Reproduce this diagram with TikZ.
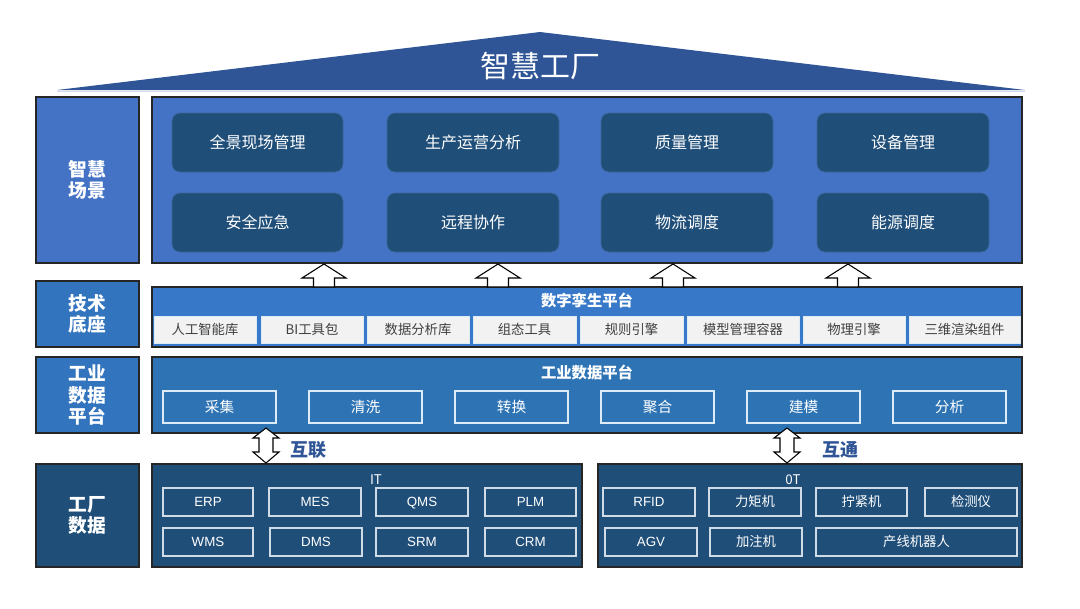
\documentclass[tikz,border=0pt]{standalone}
\usepackage{fontspec}
\setmainfont{Noto Sans CJK SC}
\newfontfamily\arialf{Liberation Sans}
\usetikzlibrary{calc}
\definecolor{roofc}{HTML}{2F5597}
\definecolor{scenec}{HTML}{4472C4}
\definecolor{techc}{HTML}{3779C8}
\definecolor{labc}{HTML}{3274BE}
\definecolor{datac}{HTML}{2E74B5}
\definecolor{darkc}{HTML}{1F4E79}
\definecolor{edgec}{HTML}{262626}
\definecolor{grayc}{HTML}{F2F2F2}
\definecolor{graytext}{HTML}{404040}
\definecolor{lightedge}{HTML}{DDEBF7}
\definecolor{innerdark}{HTML}{1F4E79}
\definecolor{inneredge}{HTML}{3A6A9A}
\definecolor{linkc}{HTML}{2F5597}
\definecolor{roofline}{HTML}{D0DCEE}
\newcommand\mkbox[7]{%
  \node[#1, minimum width={(#5-#3)*0.75pt}, minimum height={(#6-#4)*0.75pt}]
    (#2) at ({(#3+#5)/2},{(#4+#6)/2}) {#7};}
\newcommand\blockup[1]{%
  \draw[blockarrow] (#1,0 |- S.south) ++(0,1) -- ++(22,14) -- ++(-11.5,0) -- ++(0,9)
    -- ++(-21,0) -- ++(0,-9) -- ++(-11.5,0) -- cycle;}
\newcommand\blockboth[1]{%
  \draw[blockarrow] (#1,0 |- D.south) ++(0,-5) -- ++(13,10) -- ++(-6,0) -- ++(0,14)
    -- ++(6,0) -- ++(-13,11) -- ++(-13,-11) -- ++(6,0) -- ++(0,-14) -- ++(-6,0) -- cycle;}
\tikzset{
  every node/.style={inner sep=0pt, outer sep=0pt},
  lab/.style={draw=edgec, line width=1pt, text=white, align=center,
    font=\bfseries\fontsize{14}{16}\selectfont},
  mainbox/.style={draw=edgec, line width=1pt},
  sceneitem/.style={fill=innerdark, draw=inneredge, line width=0.5pt, rounded corners=6pt,
    text=white, font=\fontsize{12}{14}\selectfont},
  grayitem/.style={fill=grayc, draw=lightedge, line width=0.6pt, text=graytext,
    font=\fontsize{10}{12}\selectfont, text height=8pt, text depth=1pt},
  dataitem/.style={draw=lightedge, line width=1.1pt, text=white,
    font=\fontsize{11}{13}\selectfont},
  ititem/.style={draw=lightedge!85!gray, line width=1.1pt, text=white,
    font=\arialf\fontsize{10}{12}\selectfont, text height=7.5pt, text depth=1pt},
  otitem/.style={draw=lightedge!85!gray, line width=1.1pt, text=white,
    font=\fontsize{10}{12}\selectfont, text height=8pt, text depth=1pt},
  titletext/.style={text=white, font=\bfseries\fontsize{11.5}{13}\selectfont},
  linklabel/.style={text=linkc, font=\bfseries\fontsize{13.5}{15}\selectfont},
  blockarrow/.style={draw=black, fill=white, line width=0.8pt, line join=miter},
}
\begin{document}
\begin{tikzpicture}[x=0.75pt,y=-0.75pt]
\useasboundingbox (0,0) rectangle (1080,608);
% roof
\fill[roofc] (57,90) -- (540,32) -- (1025,90) -- cycle;
\draw[roofline, line width=1.2pt] (57,91.5) -- (1025,91.5);
\node[text=white, font=\fontsize{22.5}{24}\selectfont] (roof) at (540,66) {智慧工厂};
% left labels
\mkbox{lab, fill=scenec}{L1}{36}{97}{139}{263}{智慧\\场景}
\mkbox{lab, fill=labc}{L2}{36}{281}{139}{347}{技术\\底座}
\mkbox{lab, fill=labc}{L3}{36}{357}{139}{433}{工业\\数据\\平台}
\mkbox{lab, fill=darkc}{L4}{36}{464}{139}{567}{工厂\\数据}
% scene box
\mkbox{mainbox, fill=scenec}{S}{152}{97}{1022}{263}{}
\mkbox{sceneitem}{s1}{172}{113}{343}{172}{全景现场管理}
\mkbox{sceneitem}{s2}{387}{113}{559}{172}{生产运营分析}
\mkbox{sceneitem}{s3}{601}{113}{773}{172}{质量管理}
\mkbox{sceneitem}{s4}{817}{113}{989}{172}{设备管理}
\mkbox{sceneitem}{s5}{172}{193}{343}{252}{安全应急}
\mkbox{sceneitem}{s6}{387}{193}{559}{252}{远程协作}
\mkbox{sceneitem}{s7}{601}{193}{773}{252}{物流调度}
\mkbox{sceneitem}{s8}{817}{193}{989}{252}{能源调度}
% tech box
\mkbox{mainbox, fill=techc}{T}{152}{287}{1022}{347}{}
\node[titletext] (Ttitle) at (587,301) {数字孪生平台};
\mkbox{grayitem}{t1}{154}{316}{256}{343}{人工智能库}
\mkbox{grayitem}{t2}{261}{316}{363}{343}{BI工具包}
\mkbox{grayitem}{t3}{367}{316}{469}{343}{数据分析库}
\mkbox{grayitem}{t4}{473}{316}{576}{343}{组态工具}
\mkbox{grayitem}{t5}{580}{316}{683}{343}{规则引擎}
\mkbox{grayitem}{t6}{687}{316}{799}{343}{模型管理容器}
\mkbox{grayitem}{t7}{803}{316}{905}{343}{物理引擎}
\mkbox{grayitem}{t8}{909}{316}{1020}{343}{三维渲染组件}
% data platform
\mkbox{mainbox, fill=datac}{D}{152}{357}{1022}{433}{}
\node[titletext] (Dtitle) at (587,373) {工业数据平台};
\mkbox{dataitem}{d1}{163}{391}{276}{423}{采集}
\mkbox{dataitem}{d2}{309}{391}{422}{423}{清洗}
\mkbox{dataitem}{d3}{455}{391}{568}{423}{转换}
\mkbox{dataitem}{d4}{601}{391}{714}{423}{聚合}
\mkbox{dataitem}{d5}{747}{391}{860}{423}{建模}
\mkbox{dataitem}{d6}{893}{391}{1006}{423}{分析}
% IT box
\mkbox{mainbox, fill=darkc}{IT}{152}{464}{582}{567}{}
\node[text=white, font=\fontsize{10}{12}\selectfont] (ITl) at (376,480) {IT};
\mkbox{ititem}{i1}{163}{488}{253}{516}{ERP}
\mkbox{ititem}{i2}{269}{488}{361}{516}{MES}
\mkbox{ititem}{i3}{376}{488}{468}{516}{QMS}
\mkbox{ititem}{i4}{485}{488}{576}{516}{PLM}
\mkbox{ititem}{i5}{163}{528}{253}{556}{WMS}
\mkbox{ititem}{i6}{270}{528}{362}{556}{DMS}
\mkbox{ititem}{i7}{376}{528}{468}{556}{SRM}
\mkbox{ititem}{i8}{485}{528}{576}{556}{CRM}
% OT box
\mkbox{mainbox, fill=darkc}{OT}{598}{464}{1022}{567}{}
\node[text=white, font=\fontsize{10}{12}\selectfont] (OTl) at (793,480) {0T};
\mkbox{ititem}{o1}{603}{488}{695}{516}{RFID}
\mkbox{otitem}{o2}{709}{488}{801}{516}{力矩机}
\mkbox{otitem}{o3}{816}{488}{907}{516}{拧紧机}
\mkbox{otitem}{o4}{925}{488}{1017}{516}{检测仪}
\mkbox{ititem}{o5}{605}{528}{697}{556}{AGV}
\mkbox{otitem}{o6}{710}{528}{802}{556}{加注机}
\mkbox{otitem}{o7}{816}{528}{1017}{556}{产线机器人}
% arrows
\blockup{324}
\blockup{498}
\blockup{673}
\blockup{848}
\blockboth{266}
\blockboth{787}
\node[linklabel] (hl) at (308,450) {互联};
\node[linklabel] (ht) at (840,450) {互通};
\end{tikzpicture}
\end{document}
